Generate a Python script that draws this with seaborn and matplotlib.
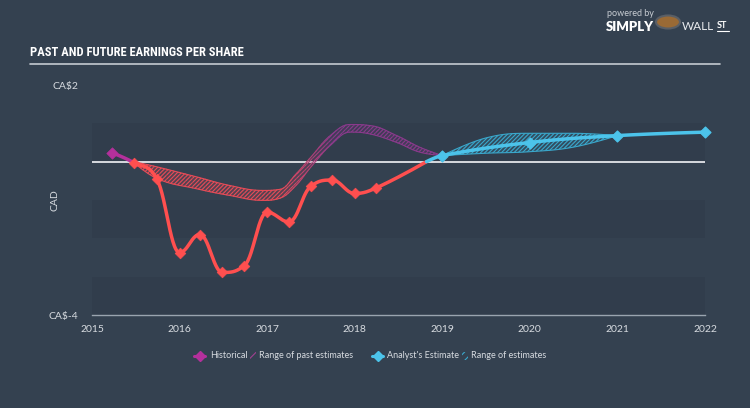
import numpy as np
import pandas as pd
import matplotlib
matplotlib.use("Agg")
import matplotlib.pyplot as plt
from matplotlib.lines import Line2D
from matplotlib.patches import Rectangle, Circle
import seaborn as sns

# ---------------- data ----------------
hist_x = [2015.23, 2015.48, 2015.74, 2016.0, 2016.23, 2016.49, 2016.74, 2017.0,
          2017.25, 2017.5, 2017.74, 2018.0, 2018.24, 2018.82]
hist_y = [0.23, -0.03, -0.45, -2.37, -1.90, -2.89, -2.71, -1.32,
          -1.57, -0.64, -0.48, -0.83, -0.69, 0.00]

fc_x = [2018.82, 2019.0, 2020.0, 2021.0, 2022.0]
fc_y = [0.00, 0.16, 0.50, 0.68, 0.77]

past_rng_x = [2015.48, 2015.75, 2016.2, 2016.57, 2016.95, 2017.15, 2017.33, 2017.5,
              2017.72, 2017.95, 2018.18, 2018.48, 2018.74, 2019.0]
past_rng_hi = [0.00, -0.14, -0.40, -0.62, -0.75, -0.72, -0.32, 0.12,
               0.68, 0.97, 0.94, 0.68, 0.38, 0.16]
past_rng_lo = [-0.03, -0.45, -0.71, -0.88, -1.01, -0.95, -0.62, -0.14,
               0.42, 0.77, 0.72, 0.50, 0.25, 0.16]

fc_rng_x = [2019.0, 2019.5, 2020.0, 2020.5, 2021.0]
fc_rng_hi = [0.16, 0.62, 0.74, 0.74, 0.68]
fc_rng_lo = [0.16, 0.22, 0.26, 0.38, 0.68]

year_ticks = [2015, 2016, 2017, 2018, 2019, 2020, 2021, 2022]
y_ticks = [-4, 2]
y_tick_labels = ["CA$-4", "CA$2"]

# ---------------- styling ----------------
BG = "#344150"
BAND = "#313d4c"
RED = "#ff4f4f"
MAGENTA = "#b4309c"
BLUE = "#4cc3ea"
TXT = "#d7dbe0"


def hc_spline(xs, ys, n=30):
    """Highcharts-style spline rendering through the given points."""
    xs = np.asarray(xs, float)
    ys = np.asarray(ys, float)
    m = len(xs)
    lcx, lcy = xs.copy(), ys.copy()
    rcx, rcy = xs.copy(), ys.copy()
    s, d = 1.5, 2.5
    for i in range(1, m - 1):
        px, py = xs[i], ys[i]
        lx, ly = xs[i - 1], ys[i - 1]
        nx, ny = xs[i + 1], ys[i + 1]
        a_x = (s * px + lx) / d
        a_y = (s * py + ly) / d
        b_x = (s * px + nx) / d
        b_y = (s * py + ny) / d
        corr = 0.0
        if b_x != a_x:
            corr = (b_y - a_y) * (b_x - px) / (b_x - a_x) + py - b_y
        a_y += corr
        b_y += corr
        if a_y > ly and a_y > py:
            a_y = max(ly, py); b_y = 2 * py - a_y
        elif a_y < ly and a_y < py:
            a_y = min(ly, py); b_y = 2 * py - a_y
        if b_y > ny and b_y > py:
            b_y = max(ny, py); a_y = 2 * py - b_y
        elif b_y < ny and b_y < py:
            b_y = min(ny, py); a_y = 2 * py - b_y
        lcx[i], lcy[i], rcx[i], rcy[i] = a_x, a_y, b_x, b_y
    outx, outy = [xs[0]], [ys[0]]
    t = np.linspace(0, 1, n)[1:]
    for i in range(m - 1):
        p0 = np.array([xs[i], ys[i]])
        p1 = np.array([rcx[i], rcy[i]])
        p2 = np.array([lcx[i + 1], lcy[i + 1]])
        p3 = np.array([xs[i + 1], ys[i + 1]])
        pts = ((1 - t) ** 3)[:, None] * p0 + (3 * (1 - t) ** 2 * t)[:, None] * p1 \
            + (3 * (1 - t) * t ** 2)[:, None] * p2 + (t ** 3)[:, None] * p3
        outx.extend(pts[:, 0]); outy.extend(pts[:, 1])
    return np.array(outx), np.array(outy)


sns.set_theme(style="dark")
plt.rcParams["font.family"] = ["Lato", "DejaVu Sans"]
plt.rcParams["hatch.linewidth"] = 0.8

fig = plt.figure(figsize=(7.5, 4.08), dpi=100, facecolor=BG)
ax = fig.add_axes([92 / 750, 1 - 315 / 408, (705 - 92) / 750, (315 - 85) / 408])
ax.set_facecolor(BG)
ax.set_xlim(2015, 2022)
ax.set_ylim(-4, 2)

# alternating bands
for lo in [0, -2, -4]:
    ax.add_patch(Rectangle((2015, lo), 7, 1, facecolor=BAND, edgecolor="none", zorder=0))

ax.axhline(0, color="#e4e6ea", lw=1.3, zorder=2)

# past estimate range (hatched, red -> purple)
px, phi = hc_spline(past_rng_x, past_rng_hi)
_, plo = hc_spline(past_rng_x, past_rng_lo)
c_red = np.array(matplotlib.colors.to_rgb("#e84c58"))
c_pur = np.array(matplotlib.colors.to_rgb("#8a3a8c"))
step = 5
for k in range(0, len(px) - 1, step):
    sl = slice(k, min(k + step + 1, len(px)))
    xm = px[sl].mean()
    f = np.clip((xm - 2017.15) / 0.6, 0, 1)
    col = c_red * (1 - f) + c_pur * f
    ax.fill_between(px[sl], plo[sl], phi[sl], facecolor=(*col, 0.18), edgecolor=col,
                    hatch="////////", lw=0, zorder=3)
    ax.plot(px[sl], phi[sl], color=col, lw=0.8, zorder=3)
    ax.plot(px[sl], plo[sl], color=col, lw=0.8, zorder=3)

# forecast range
fx, fhi = hc_spline(fc_rng_x, fc_rng_hi)
_, flo = hc_spline(fc_rng_x, fc_rng_lo)
ax.fill_between(fx, flo, fhi, facecolor=(0.23, 0.66, 0.8, 0.15), edgecolor="#3aa8cc",
                hatch="////////", lw=0, zorder=3)
ax.plot(fx, fhi, color="#3aa8cc", lw=0.8, zorder=3)
ax.plot(fx, flo, color="#3aa8cc", lw=0.8, zorder=3)

# historical line
hx, hy = hc_spline(hist_x, hist_y)
hdf = pd.DataFrame({"x": hx, "y": hy})
first = hdf[hdf.x <= hist_x[1]]
rest = hdf[hdf.x >= hist_x[1]]
sns.lineplot(data=first, x="x", y="y", color=MAGENTA, lw=2.5, ax=ax, zorder=4,
             sort=False, estimator=None)
sns.lineplot(data=rest, x="x", y="y", color=RED, lw=2.5, ax=ax, zorder=4,
             sort=False, estimator=None)
hm = pd.DataFrame({"x": hist_x[1:-1], "y": hist_y[1:-1]})
sns.scatterplot(data=hm, x="x", y="y", marker="D", s=30, color=RED, edgecolor=RED,
                ax=ax, zorder=5)
sns.scatterplot(x=[hist_x[0]], y=[hist_y[0]], marker="D", s=34, color=MAGENTA,
                edgecolor=MAGENTA, ax=ax, zorder=5)

# forecast line
fcx, fcy = hc_spline(fc_x, fc_y)
sns.lineplot(x=fcx, y=fcy, color=BLUE, lw=2.5, ax=ax, zorder=6, sort=False, estimator=None)
ax.scatter(fc_x[1:], fc_y[1:], marker="D", s=30, color=BLUE, zorder=7, clip_on=False)

# axes styling
for sp in ["top", "right", "left"]:
    ax.spines[sp].set_visible(False)
ax.spines["bottom"].set_color("#9aa4af")
ax.spines["bottom"].set_linewidth(1.0)
ax.set_xticks(year_ticks)
ax.set_xticklabels([str(y) for y in year_ticks])
ax.tick_params(axis="x", direction="out", length=6, width=1, color="#9aa4af",
               labelcolor=TXT, labelsize=7.5, pad=1)
ax.set_yticks(y_ticks)
ax.set_yticklabels(y_tick_labels)
ax.tick_params(axis="y", length=0, labelcolor=TXT, labelsize=7.5, pad=10)
ax.set_xlabel("")
ax.set_ylabel("CAD", color=TXT, fontsize=7.5)
ax.yaxis.set_label_coords(-33 / 613, 0.5)
ax.grid(False)

# title
fig.text(30 / 750, 1 - 53 / 408, "PAST AND FUTURE EARNINGS PER SHARE", color="white",
         fontsize=9, fontweight="bold", family=["Roboto Condensed", "Roboto", "DejaVu Sans"],
         va="center", ha="left")
fig.add_artist(Line2D([30 / 750, 720 / 750], [1 - 64 / 408, 1 - 64 / 408],
                      color="#c5cad1", lw=1.2))

# logo
fig.text(607 / 750, 1 - 14 / 408, "powered by", color="#c8cdd3", fontsize=6.5, va="center")
fig.text(606 / 750, 1 - 27 / 408, "SIMPLY", color="white", fontsize=9.5,
         fontweight="heavy", va="center")
fig.add_artist(Circle((668 / 750, 1 - 22 / 408), 12 / 750, transform=fig.transFigure,
                      facecolor="#9a6a35", edgecolor="#5a5f66", lw=1.5))
fig.text(682 / 750, 1 - 27 / 408, "WALL", color="#e8eaed", fontsize=8.5, fontweight="normal",
         va="center")
fig.text(717 / 750, 1 - 26 / 408, "ST", color="white", fontsize=6.5, fontweight="bold",
         va="center")
fig.add_artist(Line2D([717 / 750, 729 / 750], [1 - 31 / 408, 1 - 31 / 408],
                      color="white", lw=0.8))

# legend (manual)
ly = 1 - 356 / 408


def leg_marker(x0, col):
    fig.add_artist(Line2D([x0 / 750, (x0 + 11) / 750], [ly, ly], color=col, lw=2.2))
    fig.add_artist(Line2D([(x0 + 5.5) / 750], [ly], marker="D", ms=5, color=col))


def leg_hatch(x0, col):
    fig.add_artist(Rectangle((x0 / 750, ly - 4 / 408), 6 / 750, 8 / 408,
                             transform=fig.transFigure, facecolor="none",
                             edgecolor=col, hatch="////", lw=0))


leg_marker(194, MAGENTA)
fig.text(210 / 750, ly, "Historical", color=TXT, fontsize=6.5, va="center")
leg_hatch(250, "#a04090")
fig.text(259 / 750, ly, "Range of past estimates", color=TXT, fontsize=6.5, va="center")
leg_marker(372, BLUE)
fig.text(387 / 750, ly, "Analyst's Estimate", color=TXT, fontsize=6.5, va="center")
leg_hatch(462, "#3aa8cc")
fig.text(471 / 750, ly, "Range of estimates", color=TXT, fontsize=6.5, va="center")

fig.savefig("out.png", dpi=100, facecolor=BG)
